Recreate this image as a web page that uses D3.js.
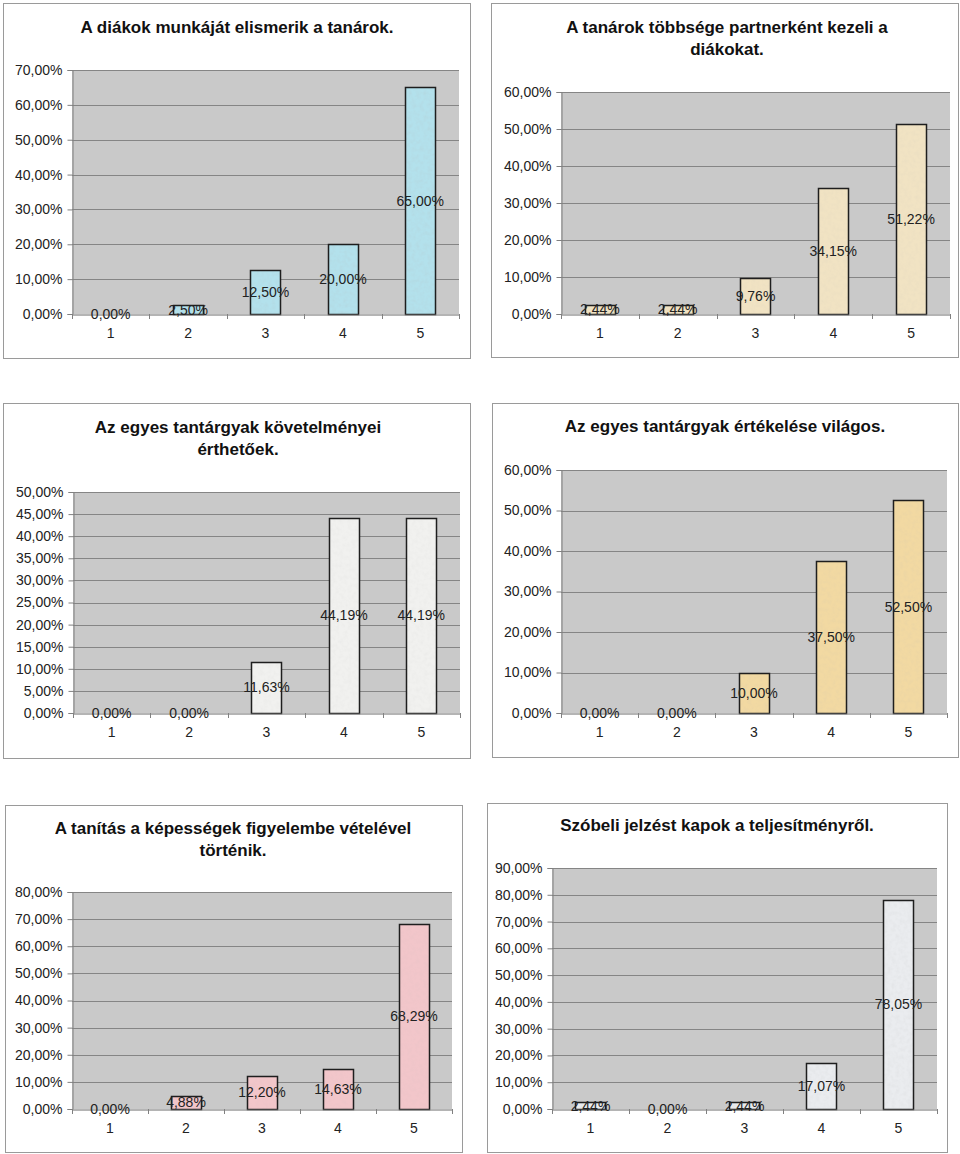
<!DOCTYPE html>
<html>
<head>
<meta charset="utf-8">
<script src="https://cdn.jsdelivr.net/npm/d3@7"></script>
<style>
  html, body { margin: 0; padding: 0; background: #ffffff; }
  svg { display: block; font-family: "Liberation Sans", Arial, Helvetica, sans-serif; }
</style>
</head>
<body>
<svg id="chart" width="960" height="1154"></svg>
<script>
// ---------- DATA ----------
const categories = ["1", "2", "3", "4", "5"];

const titleA = ["A diákok munkáját elismerik a tanárok."];
const titleB = ["A tanárok többsége partnerként kezeli a", "diákokat."];
const titleC = ["Az egyes tantárgyak követelményei", "érthetőek."];
const titleD = ["Az egyes tantárgyak értékelése világos."];
const titleE = ["A tanítás a képességek figyelembe vételével", "történik."];
const titleF = ["Szóbeli jelzést kapok a teljesítményről."];

const valuesA = [0.00, 2.50, 12.50, 20.00, 65.00];
const valuesB = [2.44, 2.44, 9.76, 34.15, 51.22];
const valuesC = [0.00, 0.00, 11.63, 44.19, 44.19];
const valuesD = [0.00, 0.00, 10.00, 37.50, 52.50];
const valuesE = [0.00, 4.88, 12.20, 14.63, 68.29];
const valuesF = [2.44, 0.00, 2.44, 17.07, 78.05];

const ticksA = [0, 10, 20, 30, 40, 50, 60, 70];
const ticksB = [0, 10, 20, 30, 40, 50, 60];
const ticksC = [0, 5, 10, 15, 20, 25, 30, 35, 40, 45, 50];
const ticksD = [0, 10, 20, 30, 40, 50, 60];
const ticksE = [0, 10, 20, 30, 40, 50, 60, 70, 80];
const ticksF = [0, 10, 20, 30, 40, 50, 60, 70, 80, 90];

// ---------- LAYOUT / STYLE ----------
const panels = [
  { title: titleA, values: valuesA, ticks: ticksA, fill: "#b3e1ec", noise: 0.22,
    box: [3, 3, 467, 355], plot: [72, 70, 459, 314], titleX: 237, titleY: 33 },
  { title: titleB, values: valuesB, ticks: ticksB, fill: "#f1e3c3", noise: 0.12,
    box: [491, 3, 467, 354], plot: [561, 92, 950, 314], titleX: 727, titleY: 33 },
  { title: titleC, values: valuesC, ticks: ticksC, fill: "#f1f1ef", noise: 0.12,
    box: [3, 403, 467, 355], plot: [73, 492, 460, 713], titleX: 238, titleY: 433 },
  { title: titleD, values: valuesD, ticks: ticksD, fill: "#f2d9a2", noise: 0.14,
    box: [492, 403, 466, 354], plot: [561, 470, 947, 713], titleX: 725, titleY: 432 },
  { title: titleE, values: valuesE, ticks: ticksE, fill: "#f2c6ca", noise: 0.10,
    box: [5, 805, 457, 347], plot: [72, 892, 452, 1109], titleX: 233, titleY: 834 },
  { title: titleF, values: valuesF, ticks: ticksF, fill: "#eaecef", noise: 0.18,
    box: [487, 803, 460, 349], plot: [552, 868, 937, 1109], titleX: 717, titleY: 831 }
];

const fmt = v => d3.format(".2f")(v).replace(".", ",") + "%";
const FONT = "'Liberation Sans', Arial, sans-serif";

const svg = d3.select("#chart");
const defs = svg.append("defs");
const filt = defs.append("filter").attr("id", "grain")
  .attr("x", 0).attr("y", 0).attr("width", 1).attr("height", 1);
filt.append("feTurbulence").attr("type", "fractalNoise")
  .attr("baseFrequency", 0.25).attr("numOctaves", 2).attr("seed", 3).attr("result", "n");
filt.append("feColorMatrix").attr("in", "n").attr("type", "matrix")
  .attr("values", "0 0 0 0 0.45  0 0 0 0 0.45  0 0 0 0 0.45  1.2 0 0 0 -0.45");

panels.forEach((p, pi) => {
  const g = svg.append("g");
  const [bx, by, bw, bh] = p.box;
  g.append("rect").attr("x", bx + 0.5).attr("y", by + 0.5)
    .attr("width", bw).attr("height", bh)
    .attr("fill", "#ffffff").attr("stroke", "#9a9a9a").attr("stroke-width", 1);

  const [x0, y0, x1, y1] = p.plot;
  const yMax = p.ticks[p.ticks.length - 1];
  const x = d3.scaleBand().domain(categories).range([x0, x1]).paddingInner(0.61).paddingOuter(0.305);
  const xb = d3.scaleBand().domain(categories).range([x0, x1]).padding(0);
  const y = d3.scaleLinear().domain([0, yMax]).range([y1, y0]);

  // plot background
  g.append("rect").attr("x", x0).attr("y", y0).attr("width", x1 - x0).attr("height", y1 - y0)
    .attr("fill", "#c9c9c9");

  // gridlines
  g.append("g").selectAll("line").data(p.ticks.filter(t => t > 0)).join("line")
    .attr("x1", x0).attr("x2", x1)
    .attr("y1", d => Math.round(y(d)) + 0.5).attr("y2", d => Math.round(y(d)) + 0.5)
    .attr("stroke", "#858585").attr("stroke-width", 1);

  // y axis
  const yAxis = d3.axisLeft(y).tickValues(p.ticks).tickFormat(fmt).tickSize(5).tickPadding(5);
  const ya = g.append("g").attr("transform", `translate(${x0 + 0.5},0)`).call(yAxis);
  ya.select(".domain").attr("stroke", "#808080");
  ya.selectAll(".tick line").attr("stroke", "#808080");
  ya.selectAll(".tick text").attr("fill", "#222").style("font-size", "14px").style("font-family", FONT);

  // bars
  const bars = g.append("g");
  const barData = p.values.map((v, i) => ({ v, c: categories[i] }));
  bars.selectAll("rect.fill").data(barData).join("rect").attr("class", "fill")
    .attr("x", d => Math.round(x(d.c)) + 0.5)
    .attr("width", Math.round(x.bandwidth()))
    .attr("y", d => Math.round(y(d.v)) + 0.5)
    .attr("height", d => Math.max(0, Math.round(y1 - y(d.v))))
    .attr("fill", p.fill);
  bars.selectAll("rect.grain").data(barData).join("rect").attr("class", "grain")
    .attr("x", d => Math.round(x(d.c)) + 0.5)
    .attr("width", Math.round(x.bandwidth()))
    .attr("y", d => Math.round(y(d.v)) + 0.5)
    .attr("height", d => Math.max(0, Math.round(y1 - y(d.v))))
    .attr("fill", "#000").attr("filter", "url(#grain)").attr("opacity", p.noise);
  bars.selectAll("rect.edge").data(barData).join("rect").attr("class", "edge")
    .attr("x", d => Math.round(x(d.c)) + 0.5)
    .attr("width", Math.round(x.bandwidth()))
    .attr("y", d => Math.round(y(d.v)) + 0.5)
    .attr("height", d => Math.max(0, Math.round(y1 - y(d.v))))
    .attr("fill", "none")
    .attr("stroke", d => d.v > 0 ? "#1e1e1e" : "none")
    .attr("stroke-width", 1.5);

  // x axis
  const xAxis = d3.axisBottom(xb).tickSize(0).tickPadding(14);
  const xa = g.append("g").attr("transform", `translate(0,${y1 + 0.5})`).call(xAxis);
  xa.select(".domain").attr("stroke", "#6a6a6a").attr("stroke-width", 1.2);
  xa.selectAll(".tick text").attr("fill", "#222").style("font-size", "14px").style("font-family", FONT);
  // boundary tick marks
  const bounds = categories.map(c => xb(c)).concat([x1]);
  g.append("g").selectAll("line").data(bounds).join("line")
    .attr("x1", d => Math.round(d) + 0.5).attr("x2", d => Math.round(d) + 0.5)
    .attr("y1", y1).attr("y2", y1 + 5)
    .attr("stroke", "#808080");

  // value labels
  g.append("g").selectAll("text").data(barData).join("text")
    .attr("x", d => x(d.c) + x.bandwidth() / 2)
    .attr("y", d => (y(d.v) + y1) / 2)
    .attr("text-anchor", "middle").attr("dominant-baseline", "central")
    .attr("fill", "#222").style("font-size", "14px").style("font-family", FONT)
    .text(d => fmt(d.v));

  // title
  g.append("text").attr("x", p.titleX).attr("y", p.titleY)
    .attr("text-anchor", "middle").attr("fill", "#111")
    .style("font-size", "17px").style("font-weight", "bold").style("font-family", FONT)
    .selectAll("tspan").data(p.title).join("tspan")
    .attr("x", p.titleX).attr("dy", (d, i) => i === 0 ? 0 : 22)
    .text(d => d);
});
</script>
</body>
</html>
